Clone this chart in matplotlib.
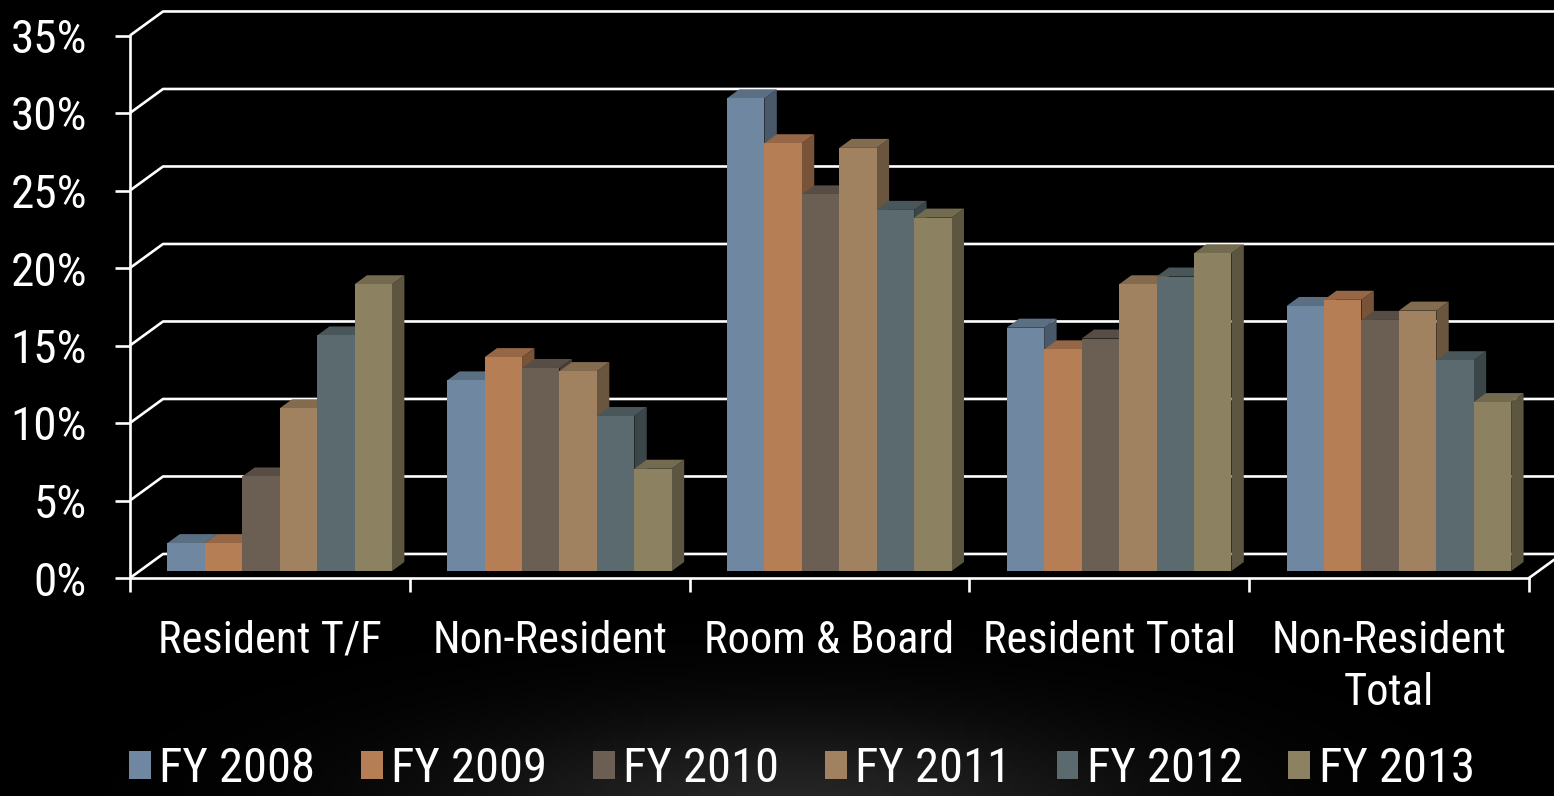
import matplotlib
matplotlib.use("Agg")
import matplotlib.pyplot as plt
import numpy as np
from matplotlib.patches import Polygon, Rectangle
from matplotlib.colors import to_rgb

plt.rcParams['font.family'] = ['Roboto Condensed', 'Liberation Sans', 'DejaVu Sans']

# data (percent)
categories = ['Resident T/F', 'Non-Resident', 'Room & Board', 'Resident Total', 'Non-Resident\nTotal']
years = ['FY 2008', 'FY 2009', 'FY 2010', 'FY 2011', 'FY 2012', 'FY 2013']
fy2008 = [1.8, 12.3, 30.5, 15.7, 17.1]
fy2009 = [1.8, 13.8, 27.6, 14.3, 17.5]
fy2010 = [6.1, 13.1, 24.3, 15.0, 16.2]
fy2011 = [10.5, 12.9, 27.3, 18.5, 16.8]
fy2012 = [15.2, 10.0, 23.3, 19.0, 13.6]
fy2013 = [18.5, 6.6, 22.8, 20.5, 10.9]
series = [fy2008, fy2009, fy2010, fy2011, fy2012, fy2013]
colors = ['#6F87A0', '#B67E55', '#6B5E53', '#A08260', '#5A6A6E', '#8C8262']
yticks = [0, 5, 10, 15, 20, 25, 30, 35]

# oblique "3d" look
DX, DY = 0.118, 1.55      # depth of the back wall in data units
D0, DD = 0.29, 0.375      # bar front depth, bar depth (fraction of wall depth)
BAR_W = 0.1338
OFFSET = 0.0994


def shade(c, f):
    r, g, b = to_rgb(c)
    return (r * f, g * f, b * f)


fig = plt.figure(figsize=(15.54, 7.96), dpi=100, facecolor='black')

# soft glow behind the legend
bg = fig.add_axes([0, 0, 1, 1], zorder=-10)
gx, gy = np.meshgrid(np.linspace(0, 1554, 400), np.linspace(0, 796, 200))
glow = np.exp(-(((gx - 790) / 360) ** 2 + ((gy + 20) / 100) ** 2))
bg.imshow(glow * 0.15, cmap='gray', vmin=0, vmax=1, extent=[0, 1554, 0, 796],
          origin='lower', aspect='auto')
bg.axis('off')

ax = fig.add_axes([130 / 1554, 218 / 796, 1399 / 1554, 542.5 / 796])
ax.set_facecolor('none')
ax.set_xlim(0, 5)
ax.set_ylim(0, 35)

# back wall + side wall gridlines
for v in yticks:
    ax.plot([0, DX, 5 + DX], [v, v + DY, v + DY], color='white', lw=1.9,
            clip_on=False, zorder=1, solid_capstyle='butt')
# right floor edge
ax.plot([5, 5 + DX], [0, DY], color='white', lw=1.9, clip_on=False, zorder=1)

x = np.arange(len(categories))
for j, (vals, c, name) in enumerate(zip(series, colors, years)):
    xl = x + OFFSET + j * BAR_W + D0 * DX
    bars = ax.bar(xl, vals, width=BAR_W, bottom=D0 * DY, align='edge', color=c,
                  label=name, clip_on=False, linewidth=0)
    for k, b in enumerate(bars):
        x0 = b.get_x()
        x1 = x0 + b.get_width()
        y0 = b.get_y()
        y1 = y0 + b.get_height()
        ox, oy = DD * DX, DD * DY
        # painter order: bars left to right, each over the one before
        z = 3 + (k * 6 + j) * 3
        b.set_zorder(z + 2)
        top = Polygon([(x0, y1), (x1, y1), (x1 + ox, y1 + oy), (x0 + ox, y1 + oy)],
                      closed=True, facecolor=shade(c, 0.82), edgecolor='none',
                      zorder=z + 1, clip_on=False)
        side = Polygon([(x1, y0), (x1, y1), (x1 + ox, y1 + oy), (x1 + ox, y0 + oy)],
                       closed=True, facecolor=shade(c, 0.66), edgecolor='none',
                       zorder=z + 1, clip_on=False)
        ax.add_patch(side)
        ax.add_patch(top)

# axes styling
for s in ['top', 'right']:
    ax.spines[s].set_visible(False)
for s in ['left', 'bottom']:
    ax.spines[s].set_color('white')
    ax.spines[s].set_linewidth(1.9)
    ax.spines[s].set_zorder(200)

ax.set_yticks(yticks)
ax.set_yticklabels([f'{v}%' for v in yticks])
ax.tick_params(axis='y', colors='white', labelcolor='white', length=11, width=1.9,
               direction='out', pad=20, labelsize=34)

ax.set_xticks(np.arange(0, 6))
ax.set_xticklabels([])
ax.set_xticks(x + 0.5, minor=True)
ax.set_xticklabels(categories, minor=True, linespacing=1.3)
ax.tick_params(axis='x', which='major', colors='white', length=10, width=1.9, direction='out')
ax.tick_params(axis='x', which='minor', length=0, pad=30, labelsize=32, labelcolor='white')

handles = [Rectangle((0, 0), 1, 1, facecolor=c) for c in colors]
fig.legend(handles, years, loc='lower center', bbox_to_anchor=(0.516, -0.05), ncol=6,
           frameon=False, fontsize=35, handlelength=0.45, handleheight=0.5,
           handletextpad=0.17, columnspacing=0.94, labelcolor='white')

fig.savefig('out.png', dpi=100, facecolor='black')
